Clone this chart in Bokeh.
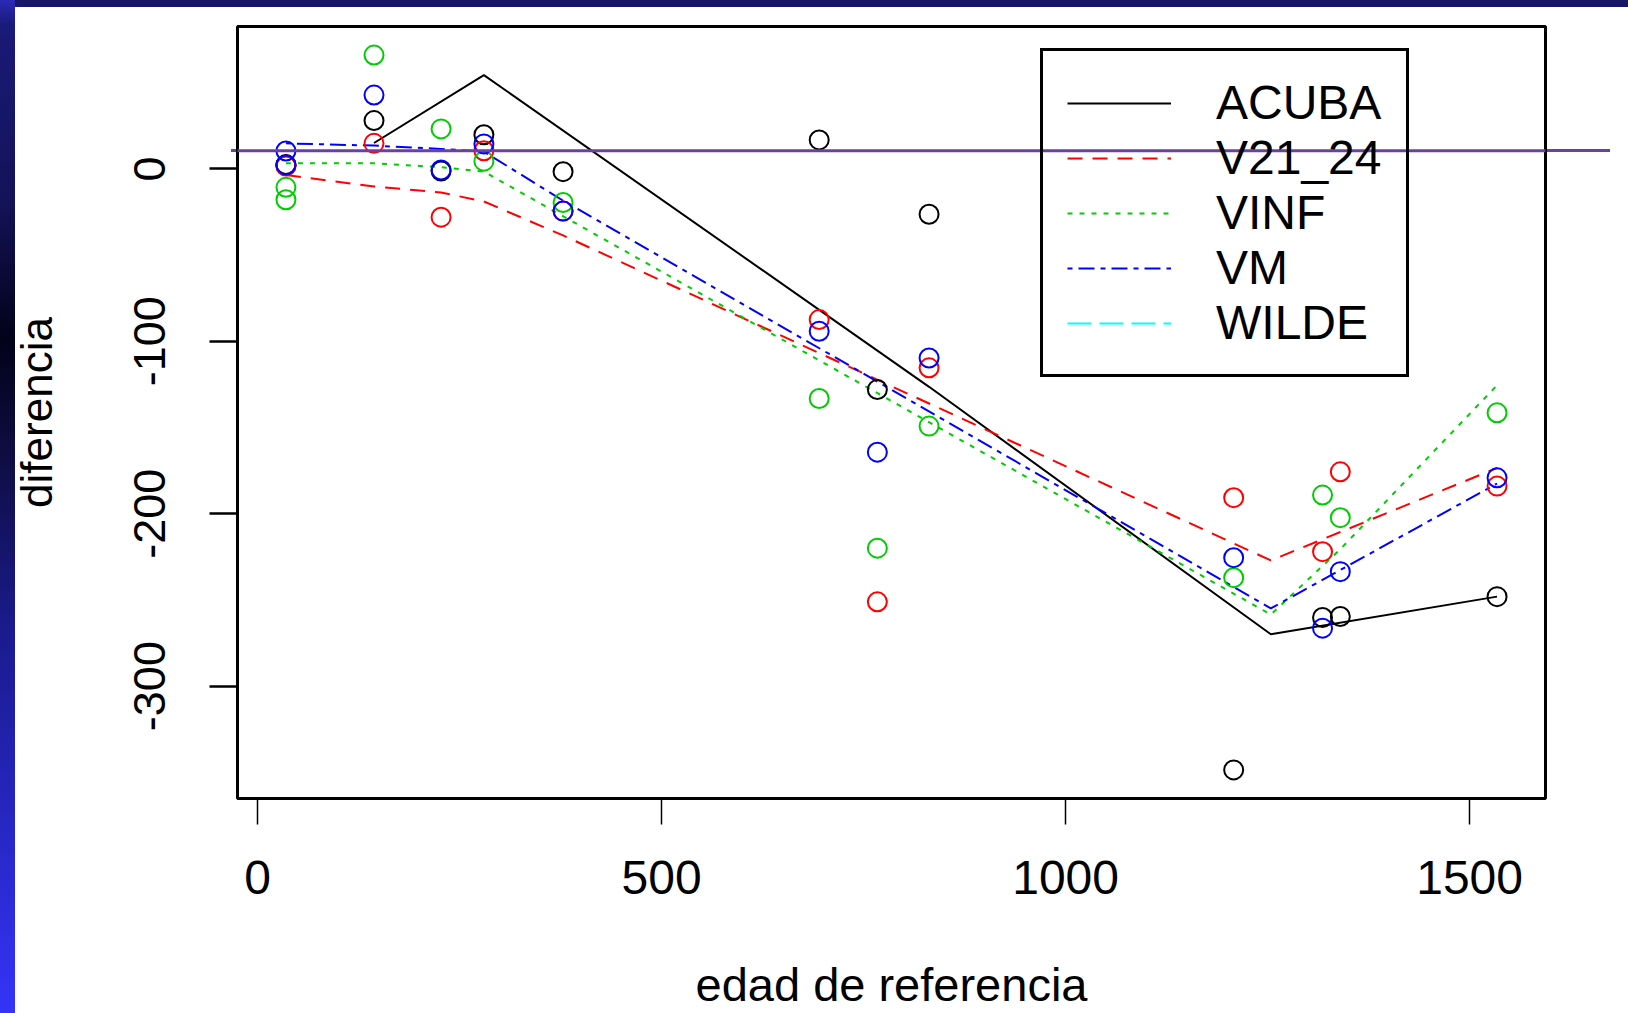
from bokeh.plotting import figure
from bokeh.models import (FixedTicker, Legend, LegendItem, BoxAnnotation, Range1d)
from bokeh.embed import file_html
from bokeh.resources import INLINE

# ---------------- data ----------------
edad = [35, 35, 144, 227, 280, 378, 695, 767, 831, 1208, 1318, 1340, 1534]
acuba = [2.0, 2.5, 28.0, -1.2, 19.8, -1.6, 16.8, -128.0, -26.3, -348.6, -260.2, -259.6, -248.1]
v21_24 = [1.7, 2.0, 14.8, -28.0, 10.5, -24.5, -87.4, -251.1, -115.4, -190.7, -222.0, -175.7, -184.0]
vinf = [-10.7, -17.9, 66.0, 23.2, 4.5, -19.5, -133.2, -220.0, -149.2, -237.1, -189.2, -202.3, -141.5]
vm = [10.4, 2.3, 42.8, -0.6, 14.5, -24.5, -94.2, -164.3, -109.7, -225.5, -266.4, -233.6, -179.2]
# WILDE has no values (all missing)
wilde_x = [float("nan")]
wilde_y = [float("nan")]

# fitted curves
acuba_fit_x = [144, 280, 831, 1254, 1534]
acuba_fit_y = [15.0, 54.4, -126.4, -269.9, -248.1]
v21_24_fit_x = [35, 144, 227, 280, 378, 1254, 1534]
v21_24_fit_y = [-3.6, -10.2, -13.7, -18.9, -38.6, -227.1, -173.5]
vinf_fit_x = [35, 144, 227, 280, 1254, 1340, 1534]
vinf_fit_y = [3.2, 3.2, 1.0, -1.6, -258.5, -220.6, -125.5]
vm_fit_x = [35, 144, 227, 280, 378, 1254, 1534]
vm_fit_y = [14.8, 13.5, 11.6, 10.0, -18.4, -254.9, -182.5]

series_names = ["ACUBA", "V21_24", "VINF", "VM", "WILDE"]
x_ticks = [0, 500, 1000, 1500]
x_tick_labels = ["0", "500", "1000", "1500"]
y_ticks = [-300, -200, -100, 0]
y_tick_labels = ["-300", "-200", "-100", "0"]
ref_line_y = 10.5

# ---------------- styling ----------------
FONT = "Liberation Sans"
colors = ["#000000", "#FF0000", "#00CD00", "#0000FF", "#00FFFF"]
dashes = ["solid", "15 10", "5 7", "5 6 16 6", "24 8"]
PURPLE = "#6b40a2"

# R-like axis ranges (4% padding)
all_y = acuba + v21_24 + vinf + vm
xmin, xmax = min(edad), max(edad)
ymin, ymax = min(all_y), max(all_y)
xpad = 0.04 * (xmax - xmin)
ypad = 0.04 * (ymax - ymin)

p = figure(width=1612, height=1005, output_backend="svg", toolbar_location=None,
           x_range=Range1d(xmin - xpad, xmax + xpad),
           y_range=Range1d(ymin - ypad, ymax + ypad),
           min_border_left=228, min_border_right=75,
           min_border_top=18, min_border_bottom=215)
p.grid.visible = False
p.outline_line_color = "black"
p.outline_line_width = 3
p.background_fill_color = "white"
p.border_fill_color = None

xa = p.xaxis[0]
xa.ticker = FixedTicker(ticks=x_ticks)
xa.major_label_overrides = dict(zip(x_ticks, x_tick_labels))
xa.major_tick_out = 26
xa.major_tick_in = 0
xa.minor_tick_out = 0
xa.minor_tick_in = 0
xa.major_tick_line_width = 1.5
xa.axis_line_color = "black"
xa.major_label_text_font = FONT
xa.major_label_text_font_size = "48px"
xa.major_label_text_color = "black"
xa.major_label_standoff = 36
xa.axis_label = "edad de referencia"
xa.axis_label_text_font = FONT
xa.axis_label_text_font_size = "47px"
xa.axis_label_text_font_style = "normal"
xa.axis_label_text_color = "black"
xa.axis_label_standoff = 61

ya = p.yaxis[0]
ya.ticker = FixedTicker(ticks=y_ticks)
ya.major_label_overrides = dict(zip(y_ticks, y_tick_labels))
ya.major_tick_out = 28
ya.major_tick_in = 0
ya.minor_tick_out = 0
ya.minor_tick_in = 0
ya.major_tick_line_width = 2.5
ya.axis_line_color = "black"
ya.major_label_orientation = "vertical"
ya.major_label_text_font = FONT
ya.major_label_text_font_size = "45px"
ya.major_label_text_color = "black"
ya.major_label_standoff = 44
ya.axis_label = "diferencia"
ya.axis_label_text_font = FONT
ya.axis_label_text_font_size = "44px"
ya.axis_label_text_font_style = "normal"
ya.axis_label_text_color = "black"
ya.axis_label_standoff = 71

# ---------------- glyphs ----------------
fits = [(acuba_fit_x, acuba_fit_y), (v21_24_fit_x, v21_24_fit_y),
        (vinf_fit_x, vinf_fit_y), (vm_fit_x, vm_fit_y), (wilde_x, wilde_y)]
pts = [acuba, v21_24, vinf, vm]

line_renderers = []
for (fx, fy), c, d in zip(fits, colors, dashes):
    r = p.line(fx, fy, line_color=c, line_width=2, line_dash=d)
    line_renderers.append(r)

for vals, c in zip(pts, colors):
    p.scatter(edad, vals, marker="circle", size=19, fill_color=None,
              line_color=c, line_width=2)

legend = Legend(items=[LegendItem(label=n, renderers=[r])
                       for n, r in zip(series_names, line_renderers)],
                location=(803, 421), padding=24, spacing=0, margin=0,
                glyph_width=104, glyph_height=54, label_height=54,
                label_standoff=45,
                label_text_font=FONT, label_text_font_size="48px",
                label_text_color="black",
                border_line_color="black", border_line_width=3,
                border_line_alpha=1.0,
                background_fill_color="white", background_fill_alpha=0.0,
                level="annotation")
p.add_layout(legend)

# purple horizontal reference line of the slide (inside the plot frame)
ref = BoxAnnotation(left=-40, right=1700,
                    bottom=ref_line_y - 0.9, top=ref_line_y + 0.9,
                    fill_color=PURPLE, fill_alpha=1.0, line_color=None,
                    level="overlay", editable=False)
p.add_layout(ref)

html = file_html(p, INLINE, title="diferencia vs edad de referencia")
# slide decoration: dark top bar, blue gradient strip at the left, and the
# parts of the purple line that run outside the plot frame
style = ("<style>html{height:100%;overflow:hidden;} body{margin:8px 8px 0 8px;overflow:hidden;"
         "background:"
         " linear-gradient(" + PURPLE + "," + PURPLE + ") 231px 148.5px/1379px 3px no-repeat,"
         " linear-gradient(to bottom, #2a2ab8 0px, #1a1a78 25px, #131358 200px,"
         " #02021a 340px, #0e0e44 460px, #1a1a8a 620px, #2525bc 800px, #3434f8 1013px)"
         " 0 0/15px 100% no-repeat,"
         " linear-gradient(#15156a,#15156a) 0 0/100% 7px no-repeat, #ffffff;}</style>")
html = html.replace("</head>", style + "</head>", 1)
open("out.html", "w").write(html)
